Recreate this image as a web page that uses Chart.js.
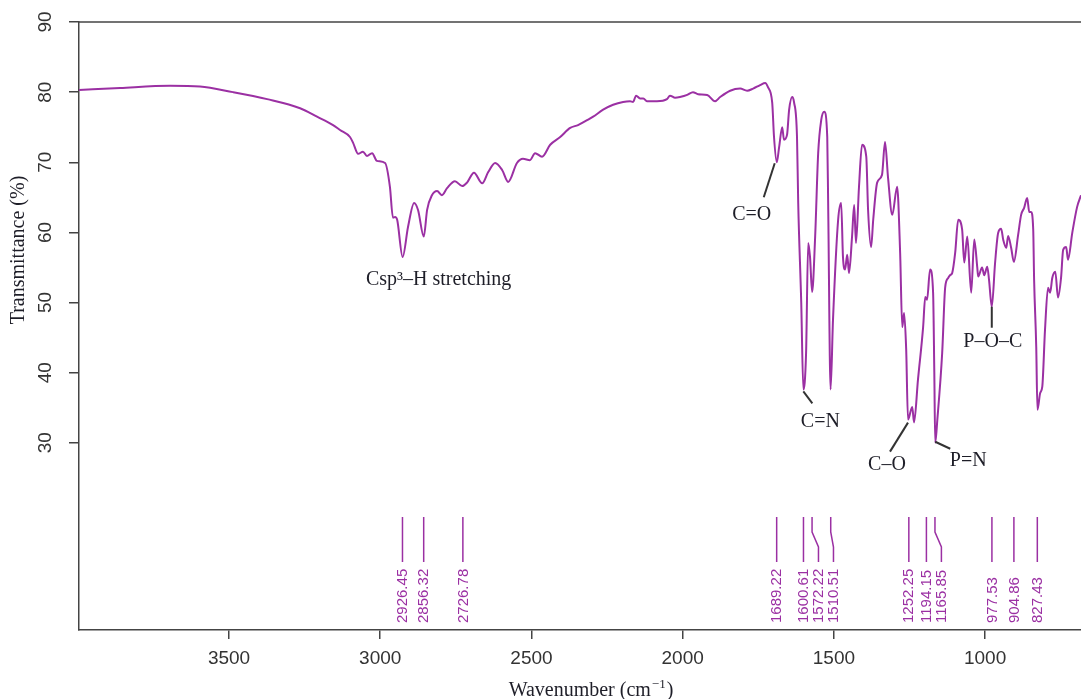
<!DOCTYPE html>
<html>
<head>
<meta charset="utf-8">
<script src="https://cdn.jsdelivr.net/npm/chart.js@4"></script>
<style>
  html, body { margin: 0; padding: 0; background: #fff; }
  canvas { display: block; }
</style>
</head>
<body>
<canvas id="c" width="1081" height="699"></canvas>
<script>
// FTIR spectrum, transmittance vs wavenumber
const wavenumbers = [
  3996, 3860, 3695, 3596, 3487, 3374, 3265, 3209, 3156, 3133, 3100, 3090, 3073, 3057, 3044, 3027, 3011, 2984,
  2968, 2958, 2951, 2944, 2926, 2908, 2888, 2875, 2856, 2845, 2829, 2812, 2796, 2779, 2753, 2729, 2713, 2690,
  2663, 2643, 2620, 2597, 2577, 2548, 2528, 2505, 2488, 2465, 2438, 2405, 2372, 2346, 2316, 2296, 2263, 2230,
  2197, 2174, 2164, 2154, 2141, 2130, 2118, 2085, 2052, 2042, 2025, 2009, 1985, 1966, 1949, 1919, 1893, 1876,
  1843, 1810, 1787, 1767, 1744, 1727, 1718, 1704, 1698, 1689, 1681, 1671, 1665, 1655, 1648, 1638, 1632, 1622,
  1618, 1608, 1601, 1592, 1585, 1579, 1572, 1562, 1552, 1542, 1532, 1522, 1519, 1511, 1503, 1486, 1476, 1470,
  1463, 1456, 1450, 1440, 1433, 1427, 1417, 1407, 1393, 1387, 1377, 1370, 1357, 1341, 1331, 1321, 1307, 1291,
  1281, 1274, 1268, 1261, 1255, 1241, 1235, 1222, 1205, 1198, 1192, 1182, 1172, 1168, 1165, 1158, 1142, 1132,
  1122, 1116, 1109, 1099, 1089, 1076, 1069, 1059, 1046, 1036, 1026, 1023, 1010, 1003, 993, 987, 978, 967,
  957, 947, 940, 930, 924, 914, 905, 891, 881, 871, 861, 854, 848, 841, 838, 831, 827, 818,
  811, 802, 792, 785, 778, 768, 759, 749, 742, 732, 726, 712, 696, 683
];
const transmittance = [
  80.3, 80.6, 80.9, 80.8, 80.0, 79.0, 77.7, 76.5, 75.3, 74.6, 73.6, 72.8, 71.2, 71.5, 70.9, 71.3, 70.2, 69.9,
  66.5, 62.1, 62.2, 61.8, 56.5, 60.8, 64.2, 63.2, 59.4, 63.2, 65.3, 65.9, 65.3, 66.3, 67.3, 66.6, 67.1, 68.5,
  67.0, 68.6, 69.9, 68.9, 67.2, 69.9, 70.5, 70.3, 71.3, 70.8, 72.5, 73.6, 74.9, 75.3, 76.0, 76.5, 77.5, 78.2,
  78.6, 78.7, 78.6, 79.5, 79.1, 79.1, 78.7, 78.7, 79.0, 79.5, 79.2, 79.3, 79.6, 80.0, 79.7, 79.6, 78.7, 79.3,
  80.2, 80.5, 80.2, 80.5, 81.0, 81.3, 80.7, 78.5, 73.6, 70.0, 72.2, 75.0, 73.2, 73.9, 77.5, 79.3, 78.6, 73.6,
  64.2, 50.0, 37.6, 42.8, 58.5, 56.5, 51.5, 59.4, 71.3, 76.0, 77.2, 73.6, 64.2, 37.6, 47.5, 61.8, 64.2, 56.5,
  54.7, 56.8, 54.2, 59.4, 63.9, 58.5, 66.5, 72.5, 70.8, 63.2, 57.9, 61.8, 67.1, 68.2, 72.9, 67.8, 62.5, 66.5,
  57.1, 46.5, 48.5, 43.3, 33.3, 35.1, 32.9, 39.0, 46.5, 50.8, 50.4, 54.7, 51.4, 40.0, 30.0, 33.3, 42.8, 52.2,
  53.5, 53.9, 54.2, 57.1, 61.8, 60.4, 55.7, 59.4, 51.4, 59.0, 55.0, 53.7, 55.0, 53.9, 55.1, 53.2, 49.4, 55.7,
  59.9, 60.5, 58.9, 57.8, 59.5, 57.8, 55.8, 59.6, 62.5, 63.5, 64.9, 62.9, 62.9, 60.4, 53.2, 43.7, 34.7, 37.1,
  38.0, 46.1, 52.1, 51.4, 53.5, 54.4, 50.7, 53.5, 57.5, 57.9, 56.1, 59.9, 63.6, 65.3
];

const xTicks = [3500, 3000, 2500, 2000, 1500, 1000];
const yTicks = [30, 40, 50, 60, 70, 80, 90];

// marked peak positions (bottom strip)
const peakPositions = [2926.45, 2856.32, 2726.78, 1689.22, 1600.61, 1572.22, 1510.51,
                       1252.25, 1194.15, 1165.85, 977.53, 904.86, 827.43];
const peakLabels = ['2926.45', '2856.32', '2726.78', '1689.22', '1600.61', '1572.22', '1510.51',
                    '1252.25', '1194.15', '1165.85', '977.53', '904.86', '827.43'];

// band assignments
const bandLabels = ['Csp³–H stretching', 'C=O', 'C=N', 'C–O', 'P=N', 'P–O–C'];
const bandWavenumbers = [2926, 1689, 1601, 1255, 1165, 978];
const bandTransmittance = [56.5, 70.0, 37.6, 33.3, 30.0, 49.4];

const PURPLE = '#9b30a3';
const AXIS = '#444';
const SANS = "'Liberation Sans', Arial, sans-serif";
const SERIF = "'Liberation Serif', 'Times New Roman', serif";

// leader line / text offsets (px) relative to each band's peak point
const bandOffsets = [
  { lead: null,                 text: [36, 23] },
  { lead: [[-2, 1], [-13, 35]], text: [-25, 52] },
  { lead: [[0, 2], [9, 14]],    text: [17, 32] },
  { lead: [[0, 3], [-18, 32]],  text: [-21, 45] },
  { lead: [[0, -1], [15, 6]],   text: [33, 18] },
  { lead: [[0, 0], [0, 21]],    text: [1, 35] },
];

const extras = {
  id: 'extras',
  afterDraw(chart) {
    const { ctx, chartArea: a, scales: { x, y } } = chart;
    ctx.save();

    // top frame line
    ctx.strokeStyle = AXIS;
    ctx.lineWidth = 1.5;
    ctx.beginPath();
    ctx.moveTo(a.left, a.top);
    ctx.lineTo(a.right, a.top);
    ctx.stroke();

    // rotated y tick labels
    ctx.fillStyle = '#333';
    ctx.font = `19px ${SANS}`;
    ctx.textAlign = 'center';
    ctx.textBaseline = 'middle';
    yTicks.forEach(v => {
      ctx.save();
      ctx.translate(46, y.getPixelForValue(v));
      ctx.rotate(-Math.PI / 2);
      ctx.fillText(String(v), 0, 0);
      ctx.restore();
    });

    // axis titles
    ctx.fillStyle = '#1e1e28';
    ctx.font = `20px ${SERIF}`;
    ctx.save();
    ctx.translate(19, 250);
    ctx.rotate(-Math.PI / 2);
    ctx.fillText('Transmittance (%)', 0, 0);
    ctx.restore();

    const t1 = 'Wavenumber (cm', sup = '−1', t2 = ')';
    ctx.font = `20px ${SERIF}`;
    const w1 = ctx.measureText(t1).width, w3 = ctx.measureText(t2).width;
    ctx.font = `13px ${SERIF}`;
    const w2 = ctx.measureText(sup).width;
    let sx = 590 - (w1 + w2 + w3) / 2;
    ctx.textAlign = 'left';
    ctx.textBaseline = 'alphabetic';
    ctx.font = `20px ${SERIF}`;
    ctx.fillText(t1, sx, 696);
    ctx.font = `13px ${SERIF}`;
    ctx.fillText(sup, sx + w1 + 1, 688);
    ctx.font = `20px ${SERIF}`;
    ctx.fillText(t2, sx + w1 + w2 + 2, 696);

    // band assignments with leader lines
    ctx.strokeStyle = '#333';
    ctx.lineWidth = 2;
    ctx.textAlign = 'center';
    ctx.textBaseline = 'middle';
    bandLabels.forEach((lab, i) => {
      const px = x.getPixelForValue(bandWavenumbers[i]);
      const py = y.getPixelForValue(bandTransmittance[i]);
      const o = bandOffsets[i];
      if (o.lead) {
        ctx.beginPath();
        ctx.moveTo(px + o.lead[0][0], py + o.lead[0][1]);
        ctx.lineTo(px + o.lead[1][0], py + o.lead[1][1]);
        ctx.stroke();
      }
      ctx.fillStyle = '#1e1e28';
      ctx.font = `20px ${SERIF}`;
      ctx.fillText(lab, px + o.text[0], py + o.text[1]);
    });

    // peak position strip at the bottom
    const top = a.bottom - 113, k1 = a.bottom - 98, k2 = a.bottom - 83, end = a.bottom - 68;
    let prev = -Infinity;
    ctx.strokeStyle = PURPLE;
    ctx.fillStyle = PURPLE;
    ctx.lineWidth = 1.5;
    ctx.font = `15px ${SANS}`;
    ctx.textAlign = 'left';
    ctx.textBaseline = 'middle';
    peakPositions.forEach((wn, i) => {
      const px = x.getPixelForValue(wn);
      const lx = Math.max(px, prev + 15);
      prev = lx;
      ctx.beginPath();
      ctx.moveTo(px, top);
      ctx.lineTo(px, k1);
      ctx.lineTo(lx, k2);
      ctx.lineTo(lx, end);
      ctx.stroke();
      ctx.save();
      ctx.translate(lx + 0.5, a.bottom - 7);
      ctx.rotate(-Math.PI / 2);
      ctx.fillText(peakLabels[i], 0, 0);
      ctx.restore();
    });

    ctx.restore();
  }
};

new Chart(document.getElementById('c'), {
  type: 'line',
  data: {
    datasets: [{
      data: wavenumbers.map((w, i) => ({ x: w, y: transmittance[i] })),
      borderColor: PURPLE,
      borderWidth: 2,
      pointRadius: 0,
      cubicInterpolationMode: 'monotone',
      fill: false,
    }]
  },
  options: {
    responsive: false,
    animation: false,
    layout: { padding: { top: 22, right: 0, left: 0, bottom: 0 } },
    plugins: { legend: { display: false }, tooltip: { enabled: false } },
    scales: {
      x: {
        type: 'linear',
        reverse: true,
        min: 683,
        max: 3996,
        afterBuildTicks: s => { s.ticks = xTicks.map(v => ({ value: v })); },
        afterFit: s => { s.height = 69; },
        grid: { drawOnChartArea: false, drawTicks: true, tickLength: 9, color: AXIS, lineWidth: 1.5 },
        border: { display: true, color: AXIS, width: 1.5 },
        ticks: {
          color: '#333', font: { family: SANS, size: 19 }, padding: 8, maxRotation: 0,
          callback: v => String(v),
        },
      },
      y: {
        min: 3.3,
        max: 90,
        afterBuildTicks: s => { s.ticks = yTicks.map(v => ({ value: v })); },
        afterFit: s => { s.width = 79; },
        grid: { drawOnChartArea: false, drawTicks: true, tickLength: 10, color: AXIS, lineWidth: 1.5 },
        border: { display: true, color: AXIS, width: 1.5 },
        ticks: { color: 'rgba(0,0,0,0)', font: { family: SANS, size: 19 } },
      }
    }
  },
  plugins: [extras]
});
</script>
</body>
</html>
